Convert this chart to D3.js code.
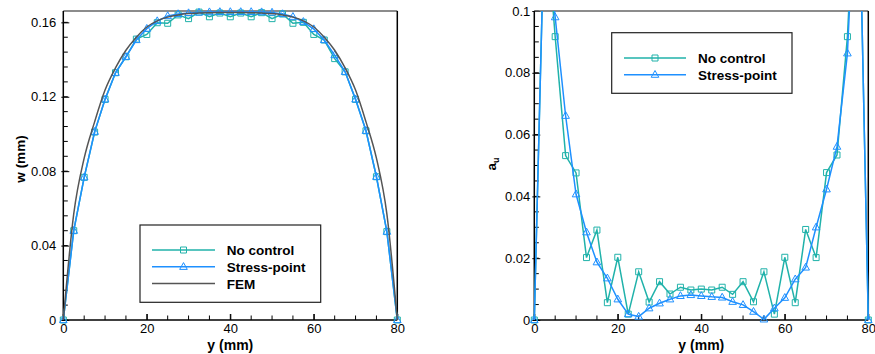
<!DOCTYPE html>
<html>
<head>
<meta charset="utf-8">
<script src="https://cdn.jsdelivr.net/npm/d3@7"></script>
<style>
  body { margin: 0; background: #fff; }
  text { font-family: "Liberation Sans", Arial, Helvetica, sans-serif; }
</style>
</head>
<body>
<svg id="chart" width="875" height="354"></svg>
<script>
// positions along the plate (mm)
const yPos = [0, 2.5, 5, 7.5, 10, 12.5, 15, 17.5, 20, 22.5, 25, 27.5, 30, 32.5, 35, 37.5, 40,
  42.5, 45, 47.5, 50, 52.5, 55, 57.5, 60, 62.5, 65, 67.5, 70, 72.5, 75, 77.5, 80];

// left panel: deflection w (mm)
const wNoControl = [0, .048, .0767, .101, .1186, .1329, .1415, .151, .1535, .1598,
  .1595, .164, .162, .1655, .163, .165, .163, .165, .163, .1652,
  .162, .1645, .1595, .16, .1535, .1505, .1405, .1334, .1186, .1017,
  .077, .0475, 0];
const wStress = [0, .048, .0767, .1012, .1186, .1329, .1415, .1505, .1566, .1607,
  .1634, .1645, .165, .1653, .1655, .1656, .1656, .1656, .1656, .1655,
  .1653, .1645, .163, .1603, .1564, .1505, .1424, .1334, .1186, .1017,
  .077, .0475, 0];
const wFem = [0, .057, .087, .1065, .1236, .1355, .145, .152, .1575, .1608,
  .1628, .164, .1647, .165, .1652, .1653, .1653, .1653, .1652, .165,
  .1647, .164, .1628, .1608, .1575, .152, .145, .1355, .1236, .1065,
  .087, .057, 0];

// right panel: a_u
const aNoControl = [0, .135, .0917, .0532, .0476, .0202, .0291, .0056, .0203, .0019,
  .0156, .0058, .0124, .0084, .0106, .0097, .01, .0097, .0106, .0083,
  .0124, .0059, .0156, .0019, .0203, .0056, .0293, .0202, .0477, .0534,
  .0917, .16, 0];
const aStress = [0, .135, .098, .0661, .0407, .0284, .0187, .0135, .0067, .0019,
  .0011, .0038, .0054, .0067, .0078, .0081, .0078, .0075, .0073, .0059,
  .0049, .0027, .0002, .0038, .0072, .0132, .017, .030, .0423, .0561,
  .0863, .16, 0];

const xTicks = [0, 20, 40, 60, 80];
const wTicks = [0, 0.04, 0.08, 0.12, 0.16];
const aTicks = [0, 0.02, 0.04, 0.06, 0.08, 0.1];

const TEAL = "#20b2aa", BLUE = "#1e90ff", GRAY = "#555";

const svg = d3.select("#chart");

function panel(opts) {
  const x = d3.scaleLinear().domain([0, 80]).range(opts.xr);
  const y = d3.scaleLinear().domain(opts.yd).range([320, 11]);
  const g = svg.append("g");

  // minor ticks
  const xMinor = d3.range(0, 80.01, 5);
  g.selectAll(".xm").data(xMinor).join("line")
    .attr("x1", d => x(d)).attr("x2", d => x(d))
    .attr("y1", 320).attr("y2", d => d % 20 === 0 ? 314 : 315.5)
    .attr("stroke", "#000").attr("stroke-width", 1);
  const yMinor = d3.range(0, opts.yd[1] + 1e-9, opts.minor);
  g.selectAll(".ym").data(yMinor).join("line")
    .attr("x1", opts.xr[0]).attr("x2", opts.xr[0] + 4.5)
    .attr("y1", d => y(d)).attr("y2", d => y(d))
    .attr("stroke", "#000").attr("stroke-width", 1);

  // major ticks + labels via d3 axes
  const ax = g.append("g").attr("transform", "translate(0,320)")
    .call(d3.axisBottom(x).tickValues(xTicks).tickSize(-6).tickPadding(4).tickFormat(d3.format("d")));
  const ay = g.append("g").attr("transform", `translate(${opts.xr[0]},0)`)
    .call(d3.axisLeft(y).tickValues(opts.ticks).tickSize(-6).tickPadding(opts.pad)
      .tickFormat(d => d === 0 ? "0" : String(+d.toFixed(2))));
  [ax, ay].forEach(a => {
    a.select(".domain").remove();
    a.selectAll("line").attr("stroke", "#000");
    a.selectAll("text").attr("font-size", 13).attr("fill", "#000")
      .attr("font-family", "Liberation Sans, Arial, sans-serif");
  });
  ay.selectAll(".tick line").attr("x1", -2);

  // frame
  g.append("line").attr("x1", opts.xr[0]).attr("x2", opts.xr[1]).attr("y1", 11).attr("y2", 11)
    .attr("stroke", "#666").attr("stroke-width", 1.5);
  g.append("line").attr("x1", opts.xr[1]).attr("x2", opts.xr[1]).attr("y1", 11).attr("y2", 320)
    .attr("stroke", "#000").attr("stroke-width", 1.5);
  g.append("line").attr("x1", opts.xr[0]).attr("x2", opts.xr[0]).attr("y1", 11).attr("y2", 320)
    .attr("stroke", "#000").attr("stroke-width", 1.5);
  g.append("line").attr("x1", opts.xr[0]).attr("x2", opts.xr[1]).attr("y1", 320).attr("y2", 320)
    .attr("stroke", "#000").attr("stroke-width", 1.5);

  // x title
  g.append("text").attr("x", (opts.xr[0] + opts.xr[1]) / 2).attr("y", 350)
    .attr("text-anchor", "middle").attr("font-weight", "bold").attr("font-size", 14)
    .text("y (mm)");

  // data
  const clipId = "clip" + opts.xr[0];
  svg.append("clipPath").attr("id", clipId).append("rect")
    .attr("x", opts.xr[0] - 10).attr("y", opts.clipTop)
    .attr("width", opts.xr[1] - opts.xr[0] + 20).attr("height", 340 - opts.clipTop);
  const dg = g.append("g").attr("clip-path", `url(#${clipId})`);

  opts.series.forEach(s => {
    const pts = yPos.map((p, i) => [x(p), y(s.values[i])]);
    const line = d3.line().curve(s.smooth ? d3.curveMonotoneX : d3.curveLinear);
    dg.append("path").attr("d", line(pts)).attr("fill", "none")
      .attr("stroke", s.color).attr("stroke-width", 1.5);
    if (s.marker) drawMarkers(dg, pts, s.marker, s.color);
  });

  return { x, y, g };
}

function drawMarkers(sel, pts, type, color) {
  const path = type === "square"
    ? "M-3,-3H3V3H-3Z"
    : "M0,-4.2L3.8,2.6H-3.8Z";
  sel.selectAll(null).data(pts).join("path")
    .attr("transform", d => `translate(${d[0]},${d[1]})`)
    .attr("d", path).attr("fill", "none")
    .attr("stroke", color).attr("stroke-width", 1);
}

function legend(box, entries) {
  const g = svg.append("g");
  g.append("rect").attr("x", box.x).attr("y", box.y).attr("width", box.w).attr("height", box.h)
    .attr("fill", "#fff").attr("stroke", "#222").attr("stroke-width", 1.2);
  entries.forEach((e, i) => {
    const ly = box.y0 + i * box.dy;
    g.append("line").attr("x1", box.lx0).attr("x2", box.lx1).attr("y1", ly).attr("y2", ly)
      .attr("stroke", e.color).attr("stroke-width", 1.5);
    if (e.marker) drawMarkers(g, [[(box.lx0 + box.lx1) / 2, ly]], e.marker, e.color);
    g.append("text").attr("x", box.tx).attr("y", ly + 5)
      .attr("font-weight", "bold").attr("font-size", 13.5).text(e.name);
  });
}

// left panel
panel({
  xr: [63.3, 397.3], yd: [0, 0.1661], ticks: wTicks, minor: 0.008, pad: 7, clipTop: 0,
  series: [
    { values: wNoControl, color: TEAL, marker: "square" },
    { values: wStress, color: BLUE, marker: "triangle" },
    { values: wFem, color: GRAY, smooth: true }
  ]
});
svg.append("text").attr("transform", "translate(25,159) rotate(-90)")
  .attr("text-anchor", "middle").attr("font-weight", "bold").attr("font-size", 13.5)
  .text("w (mm)");

legend({ x: 140, y: 225, w: 180.7, h: 77.3, y0: 250, dy: 16.8, lx0: 152, lx1: 215, tx: 226.7 }, [
  { name: "No control", color: TEAL, marker: "square" },
  { name: "Stress-point", color: BLUE, marker: "triangle" },
  { name: "FEM", color: GRAY }
]);

// right panel
panel({
  xr: [534.3, 868.3], yd: [0, 0.1], ticks: aTicks, minor: 0.005, pad: 4, clipTop: 11,
  series: [
    { values: aNoControl, color: TEAL, marker: "square" },
    { values: aStress, color: BLUE, marker: "triangle" }
  ]
});
const au = svg.append("text").attr("transform", "translate(496,164) rotate(-90)")
  .attr("text-anchor", "middle").attr("font-weight", "bold").attr("font-size", 13.5);
au.append("tspan").text("a");
au.append("tspan").attr("font-size", 9).attr("dy", 3).text("u");

legend({ x: 611.7, y: 32.7, w: 180.3, h: 60.6, y0: 58, dy: 16.7, lx0: 624, lx1: 686, tx: 698 }, [
  { name: "No control", color: TEAL, marker: "square" },
  { name: "Stress-point", color: BLUE, marker: "triangle" }
]);
</script>
</body>
</html>
